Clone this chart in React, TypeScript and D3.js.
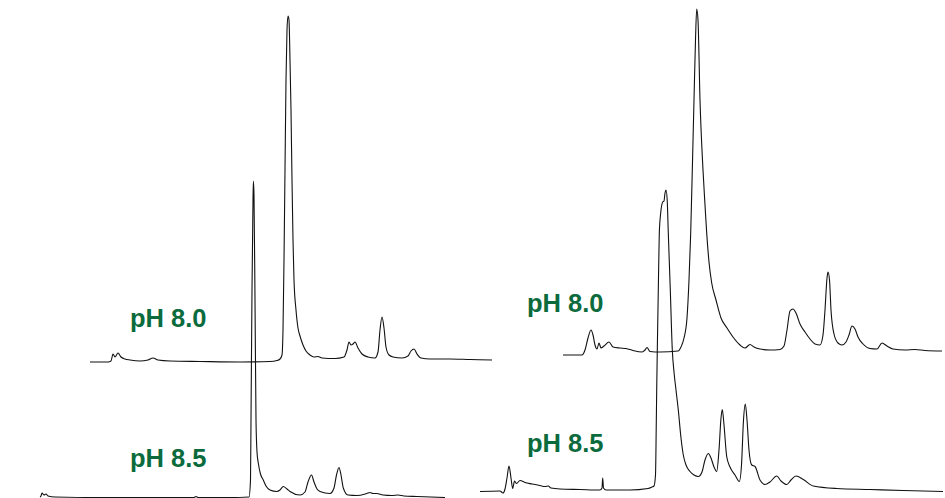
import * as d3 from 'd3';
import { useEffect, useRef } from 'react';

// chromatogram readings: [retention time (arb. min), signal (arb. mAU)]
const leftPh80: [number, number][] = [
  [0, 0], [1.8, 0], [2.1, 2], [2.3, 16], [2.5, 10], [2.8, 18], [3.1, 10], [3.5, 6], [4.0, 4],
  [5.0, 2], [5.8, 4], [6.3, 8], [6.8, 4], [8.0, 2], [11.0, 1], [15.0, 0], [18.0, 1], [18.7, 3],
  [19.0, 6], [19.2, 14], [19.3, 64], [19.4, 204], [19.5, 384], [19.6, 564], [19.7, 664],
  [19.8, 692], [19.9, 684], [20.0, 604], [20.1, 504], [20.2, 364], [20.3, 244], [20.4, 164],
  [20.6, 104], [20.8, 68], [21.0, 52], [21.3, 34], [21.6, 22], [22.0, 14], [22.4, 10],
  [22.8, 11], [23.2, 8], [24.5, 7], [25.4, 10], [25.7, 24], [25.9, 40], [26.1, 34], [26.3, 36],
  [26.5, 40], [26.8, 28], [27.2, 16], [27.8, 10], [28.5, 8], [28.8, 20], [29.0, 64], [29.2, 90],
  [29.4, 68], [29.6, 30], [29.9, 14], [30.3, 10], [31.2, 8], [31.8, 12], [32.1, 22], [32.4, 26],
  [32.7, 16], [33.1, 8], [34.0, 6], [36.0, 6], [38.0, 5], [40.2, 4],
];

const leftPh85: [number, number][] = [
  [0, 1], [0.1, 3], [0.2, 9], [0.4, 5], [0.6, 7], [0.8, 3], [1.5, 1], [6.0, 0], [11.0, 0],
  [15.4, 0], [15.6, 2], [15.8, 0], [19.0, 0], [20.9, 1], [21.05, 35], [21.1, 155], [21.2, 415],
  [21.3, 595], [21.34, 633], [21.4, 605], [21.5, 395], [21.6, 155], [21.7, 91], [21.83, 69],
  [22.05, 47], [22.33, 35], [22.6, 23], [23.0, 15], [23.67, 12], [24.0, 15], [24.33, 22],
  [24.7, 17], [25.0, 12], [26.0, 5], [26.5, 11], [26.8, 31], [27.15, 45], [27.4, 31], [27.7, 17],
  [28.0, 12], [29.0, 8], [29.4, 19], [29.65, 45], [29.9, 60], [30.1, 45], [30.33, 19], [30.8, 5],
  [31.7, 4], [32.67, 8], [33.0, 10], [33.3, 8], [33.67, 8], [34.3, 5], [35.2, 4], [35.8, 5],
  [36.4, 3], [37.7, 2], [40.5, 0],
];

const rightPh80: [number, number][] = [
  [0, -6], [1.9, -6], [2.2, 4], [2.5, 28], [2.8, 44], [3.0, 34], [3.2, 14], [3.4, 6], [3.6, 18],
  [3.8, 8], [4.1, 12], [4.6, 20], [5.0, 10], [5.7, 8], [6.3, 7], [7.0, 3], [7.9, 0], [8.2, 4],
  [8.4, 9], [8.7, 1], [9.7, 0], [11.5, 2], [11.8, 10], [12.1, 28], [12.4, 68], [12.6, 144],
  [12.77, 238], [12.93, 364], [13.1, 504], [13.25, 624], [13.37, 686], [13.5, 664], [13.7, 504],
  [14.0, 364], [14.2, 294], [14.37, 238], [14.6, 180], [14.87, 138], [15.3, 104], [15.8, 68],
  [16.4, 48], [17.0, 30], [17.7, 14], [18.2, 8], [18.7, 15], [19.1, 10], [19.7, 6], [20.7, 4],
  [21.7, 5], [22.1, 12], [22.4, 44], [22.7, 82], [23.0, 86], [23.3, 78], [23.7, 56], [24.2, 40],
  [24.7, 26], [25.2, 16], [25.7, 14], [26.0, 34], [26.2, 84], [26.4, 148], [26.5, 160],
  [26.65, 144], [26.8, 84], [27.1, 36], [27.5, 18], [27.9, 14], [28.3, 20], [28.6, 34],
  [28.9, 52], [29.2, 46], [29.5, 30], [30.0, 16], [30.7, 7], [31.4, 6], [31.9, 18], [32.4, 12],
  [33.0, 6], [34.2, 4], [35.2, 5], [36.2, 3], [37.9, 2],
];

const rightPh85: [number, number][] = [
  [0, -1], [2.0, 0], [2.3, -4], [2.5, 4], [2.7, 26], [2.9, 50], [3.1, 26], [3.27, 5],
  [3.45, 20], [3.65, 15], [4.0, 21], [4.5, 17], [5.2, 14], [6.0, 11], [6.5, 9], [6.83, 10],
  [7.1, 6], [8.0, 4], [10.0, 3], [12.0, 2], [12.2, 6], [12.27, 26], [12.35, 6], [12.6, 2],
  [15.0, 2], [16.8, 5], [17.2, 8], [17.4, 10], [17.55, 32], [17.62, 122], [17.67, 202],
  [17.73, 282], [17.83, 402], [17.93, 516], [18.07, 556], [18.27, 578], [18.4, 580],
  [18.5, 596], [18.6, 602], [18.72, 582], [18.83, 516], [19.03, 402], [19.23, 282],
  [19.4, 238], [19.6, 202], [19.83, 162], [20.1, 106], [20.33, 72], [20.6, 52], [21.0, 39],
  [21.4, 32], [21.83, 29], [22.2, 38], [22.5, 62], [22.83, 75], [23.1, 66], [23.4, 48],
  [23.67, 39], [23.9, 82], [24.1, 146], [24.23, 163], [24.4, 132], [24.67, 69], [25.0, 48],
  [25.5, 32], [25.93, 19], [26.15, 52], [26.35, 142], [26.53, 174], [26.7, 142], [26.9, 82],
  [27.17, 52], [27.5, 49], [28.0, 22], [28.5, 13], [29.0, 18], [29.67, 30], [30.1, 20],
  [30.67, 13], [31.1, 22], [31.6, 30], [32.33, 23], [33.33, 10], [35.67, 5], [39.0, 3],
  [42.33, 1], [46.3, -1],
];

const traceLabels = ['pH 8.0', 'pH 8.5', 'pH 8.0', 'pH 8.5'];
const traceData = [leftPh80, leftPh85, rightPh80, rightPh85];

// where each trace sits on the page: time origin, baseline, label anchor
const layout = [
  { x0: 90, base: 362, lx: 130, ly: 327 },
  { x0: 40, base: 497.5, lx: 130, ly: 467 },
  { x0: 563, base: 352, lx: 527, ly: 312 },
  { x0: 480, base: 491, lx: 527, ly: 452 },
];

const W = 945;
const H = 498;
const PX_PER_MIN = 10;
const PX_PER_UNIT = 0.5;

export default function App() {
  const ref = useRef<SVGSVGElement | null>(null);

  useEffect(() => {
    const svg = d3.select(ref.current);
    svg.selectAll('*').remove();

    traceData.forEach((data, i) => {
      const { x0, base, lx, ly } = layout[i];
      const tMax = d3.max(data, (d) => d[0]) as number;
      const x = d3.scaleLinear().domain([0, tMax]).range([x0, x0 + tMax * PX_PER_MIN]);
      const y = d3.scaleLinear().domain([0, 100]).range([base, base - 100 * PX_PER_UNIT]);
      const line = d3
        .line<[number, number]>()
        .x((d) => x(d[0]))
        .y((d) => y(d[1]))
        .curve(d3.curveMonotoneX);

      svg
        .append('path')
        .datum(data)
        .attr('d', line)
        .attr('fill', 'none')
        .attr('stroke', '#111')
        .attr('stroke-width', 1.1)
        .attr('stroke-linejoin', 'round');

      svg
        .append('text')
        .attr('x', lx)
        .attr('y', ly)
        .attr('font-family', '"Liberation Sans", Arial, sans-serif')
        .attr('font-weight', 'bold')
        .attr('font-size', 25.5)
        .attr('fill', '#0b6b3d')
        .text(traceLabels[i]);
    });
  }, []);

  return (
    <svg
      ref={ref}
      width={W}
      height={H}
      style={{ position: 'absolute', left: 0, top: 0, background: '#fff' }}
    />
  );
}
